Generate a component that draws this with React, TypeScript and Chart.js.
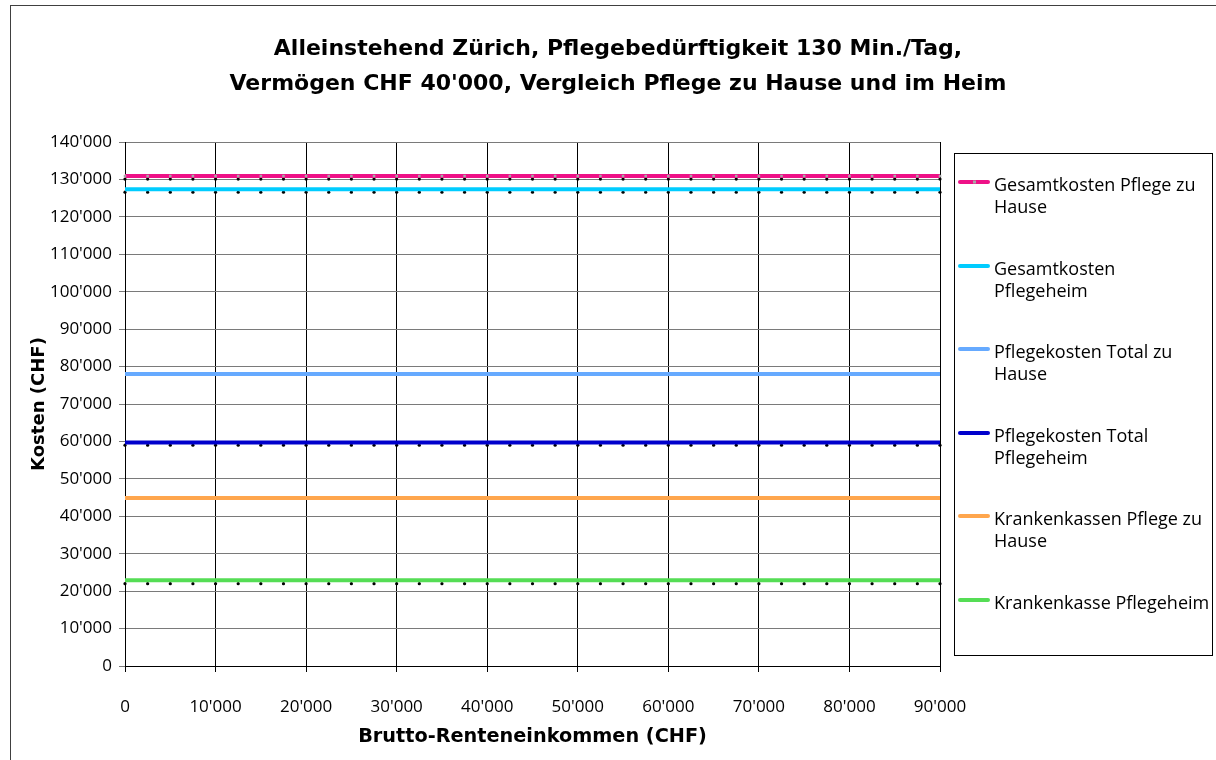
import React, { useEffect, useRef } from "react";
import { Chart, registerables } from "chart.js";

Chart.register(...registerables);

// ---- Data ----
const incomes = [
  0, 2500, 5000, 7500, 10000, 12500, 15000, 17500, 20000, 22500, 25000, 27500,
  30000, 32500, 35000, 37500, 40000, 42500, 45000, 47500, 50000, 52500, 55000,
  57500, 60000, 62500, 65000, 67500, 70000, 72500, 75000, 77500, 80000, 82500,
  85000, 87500, 90000,
];

const titleLines = [
  "Alleinstehend Zürich, Pflegebedürftigkeit 130 Min./Tag,",
  "Vermögen CHF 40'000, Vergleich Pflege zu Hause und im Heim",
];
const xAxisTitle = "Brutto-Renteneinkommen (CHF)";
const yAxisTitle = "Kosten (CHF)";

const seriesLabels = [
  "Gesamtkosten Pflege zu Hause",
  "Gesamtkosten Pflegeheim",
  "Pflegekosten Total zu Hause",
  "Pflegekosten Total Pflegeheim",
  "Krankenkassen Pflege zu Hause",
  "Krankenkasse Pflegeheim",
];
const legendLines = [
  ["Gesamtkosten Pflege zu", "Hause"],
  ["Gesamtkosten", "Pflegeheim"],
  ["Pflegekosten Total zu", "Hause"],
  ["Pflegekosten Total", "Pflegeheim"],
  ["Krankenkassen Pflege zu", "Hause"],
  ["Krankenkasse Pflegeheim"],
];
// constant cost per series (CHF)
const seriesLevels = [130900, 127400, 78000, 59700, 44900, 22900];
const seriesColors = ["#EE1187", "#00CCFF", "#66AAFF", "#0000CC", "#FFA64D", "#55DD55"];

// black marker rows (hidden series whose markers show just under the lines)
const markerLevels = [130100, 126600, 59000, 22000];

const xMin = 0;
const xMax = 90000;
const xStep = 10000;
const yMin = 0;
const yMax = 140000;
const yStep = 10000;

const fmt = (v: number) => String(Math.round(v)).replace(/\B(?=(\d{3})+(?!\d))/g, "'");

const FONT = "'Open Sans', 'Noto Sans', sans-serif";
const BOLD_FONT = "'DejaVu Sans', 'Open Sans', sans-serif";

function fitSize(c: CanvasRenderingContext2D, text: string, family: string, target: number) {
  c.font = `bold 20px ${family}`;
  const w = c.measureText(text).width || 1;
  return (20 * target) / w;
}

export default function App() {
  const ref = useRef<HTMLCanvasElement | null>(null);

  useEffect(() => {
    if (!ref.current) return;

    const lineSets: any[] = seriesLevels.map((lvl, i) => ({
      label: seriesLabels[i],
      data: incomes.map((x) => ({ x, y: lvl })),
      borderColor: seriesColors[i],
      backgroundColor: i === 0 ? "#A8A8A8" : seriesColors[i],
      borderWidth: 4,
      pointRadius: i === 0 ? 1.8 : 0,
      pointStyle: "rect",
      pointBorderWidth: 0,
      tension: 0,
      fill: false,
      clip: false,
    }));
    const markerSets: any[] = markerLevels.map((lvl) => ({
      label: "",
      data: incomes.map((x) => ({ x, y: lvl })),
      showLine: false,
      borderColor: "#000",
      backgroundColor: "#000",
      pointRadius: 1.6,
      pointStyle: "circle",
      pointBorderWidth: 0,
      clip: false,
    }));

    const decor = {
      id: "decor",
      beforeDraw(chart: any) {
        const c = chart.ctx;
        c.save();
        c.fillStyle = "#fff";
        c.fillRect(0, 0, chart.width, chart.height);
        c.strokeStyle = "#404040";
        c.lineWidth = 1;
        c.strokeRect(10.5, 5.5, 1220, 800);
        c.restore();
      },
      afterDraw(chart: any) {
        const c = chart.ctx;
        const area = chart.chartArea;
        c.save();
        c.fillStyle = "#000";
        c.textAlign = "center";
        c.textBaseline = "alphabetic";
        // title
        const ts = fitSize(c, titleLines[1], BOLD_FONT, 777);
        c.font = `bold ${ts}px ${BOLD_FONT}`;
        c.fillText(titleLines[0], 618, 55);
        c.fillText(titleLines[1], 618, 90);
        // x axis title
        const xs = fitSize(c, xAxisTitle, BOLD_FONT, 349);
        c.font = `bold ${xs}px ${BOLD_FONT}`;
        c.fillText(xAxisTitle, (area.left + area.right) / 2, 742);
        // y axis title
        const ysz = fitSize(c, yAxisTitle, BOLD_FONT, 134);
        c.font = `bold ${ysz}px ${BOLD_FONT}`;
        c.save();
        c.translate(44, (area.top + area.bottom) / 2);
        c.rotate(-Math.PI / 2);
        c.fillText(yAxisTitle, 0, 0);
        c.restore();
        // legend
        c.strokeStyle = "#000";
        c.lineWidth = 1;
        c.strokeRect(954.5, 153.5, 258, 502);
        const ys = [182, 266, 349, 433, 516, 600];
        c.font = `18px ${FONT}`;
        c.textAlign = "left";
        ys.forEach((y, i) => {
          c.strokeStyle = seriesColors[i];
          c.lineWidth = 4;
          c.lineCap = "round";
          c.beginPath();
          c.moveTo(960, y);
          c.lineTo(988, y);
          c.stroke();
          if (i === 0) {
            c.fillStyle = "#A8A8A8";
            c.fillRect(973, y - 1.5, 3, 3);
          }
          c.fillStyle = "#000";
          legendLines[i].forEach((t, j) => {
            c.fillText(t, 994, y + 9 + j * 21.6);
          });
        });
        c.restore();
      },
    };

    const chart = new Chart(ref.current, {
      type: "line",
      data: { datasets: [...lineSets, ...markerSets] },
      options: {
        animation: false,
        responsive: false,
        maintainAspectRatio: false,
        layout: { padding: { left: 10, right: 276, top: 142, bottom: 0 } },
        plugins: {
          legend: { display: false },
          title: { display: false },
          tooltip: { enabled: false },
        },
        scales: {
          x: {
            type: "linear",
            min: xMin,
            max: xMax,
            afterFit: (s: any) => {
              s.height = 94;
            },
            ticks: {
              stepSize: xStep,
              color: "#000",
              font: { family: FONT, size: 17 },
              padding: 25,
              maxRotation: 0,
              callback: (v: any) => fmt(Number(v)),
            },
            grid: {
              color: "#000",
              lineWidth: 1,
              drawTicks: true,
              tickLength: 6,
            },
            border: { display: true, color: "#000", width: 1 },
          },
          y: {
            type: "linear",
            min: yMin,
            max: yMax,
            afterFit: (s: any) => {
              s.width = 115;
            },
            ticks: {
              stepSize: yStep,
              color: "#000",
              font: { family: FONT, size: 17 },
              padding: 7,
              callback: (v: any) => fmt(Number(v)),
            },
            grid: {
              color: "#7a7a7a",
              lineWidth: 1,
              drawTicks: true,
              tickLength: 6,
            },
            border: { display: true, color: "#000", width: 1 },
          },
        },
      } as any,
      plugins: [decor],
    });

    return () => chart.destroy();
  }, []);

  return (
    <div style={{ position: "absolute", left: 0, top: 0, width: 1216, height: 760 }}>
      <canvas ref={ref} width={1216} height={760} style={{ width: 1216, height: 760, display: "block" }} />
    </div>
  );
}
